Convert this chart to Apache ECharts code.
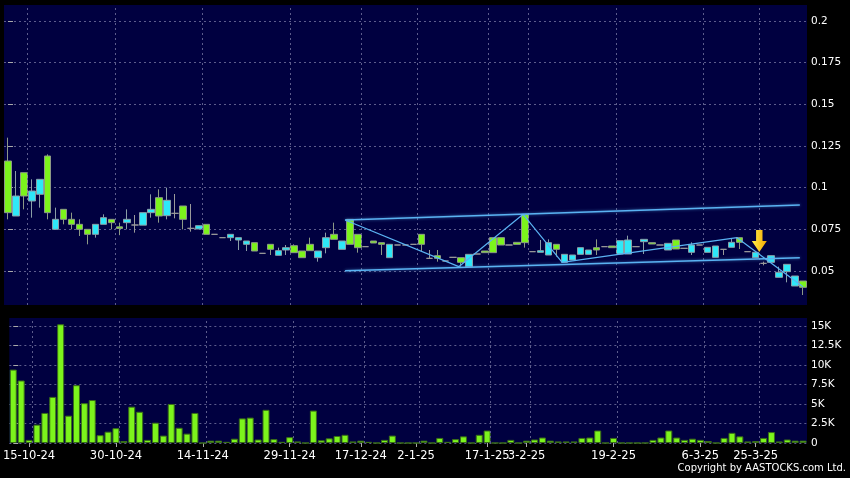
<!DOCTYPE html>
<html><head><meta charset="utf-8">
<script src="https://cdn.jsdelivr.net/npm/echarts@6/dist/echarts.min.js"></script>
<style>html,body{margin:0;padding:0;background:#000;} #c{width:850px;height:478px;}</style>
</head><body><div id="c"></div>
<script>
const dates = ['10-10-24','14-10-24','15-10-24','16-10-24','17-10-24','18-10-24','21-10-24','22-10-24','23-10-24','24-10-24',
'25-10-24','28-10-24','29-10-24','30-10-24','31-10-24','1-11-24','4-11-24','5-11-24','6-11-24','7-11-24',
'8-11-24','11-11-24','12-11-24','13-11-24','14-11-24','15-11-24','18-11-24','19-11-24','20-11-24','21-11-24',
'22-11-24','25-11-24','26-11-24','27-11-24','28-11-24','29-11-24','2-12-24','3-12-24','4-12-24','6-12-24',
'9-12-24','11-12-24','13-12-24','16-12-24','17-12-24','18-12-24','19-12-24','20-12-24','23-12-24','27-12-24',
'30-12-24','2-1-25','3-1-25','6-1-25','7-1-25','9-1-25','10-1-25','13-1-25','14-1-25','16-1-25',
'17-1-25','20-1-25','22-1-25','24-1-25','27-1-25','3-2-25','4-2-25','5-2-25','6-2-25','7-2-25',
'10-2-25','11-2-25','12-2-25','13-2-25','14-2-25','18-2-25','19-2-25','20-2-25','21-2-25','24-2-25',
'25-2-25','26-2-25','27-2-25','28-2-25','3-3-25','4-3-25','5-3-25','6-3-25','7-3-25','11-3-25',
'13-3-25','14-3-25','18-3-25','21-3-25','25-3-25','26-3-25','27-3-25','28-3-25','31-3-25','1-4-25','2-4-25'];
const labelDates = ['15-10-24','30-10-24','14-11-24','29-11-24','17-12-24','2-1-25','17-1-25','3-2-25','19-2-25','6-3-25','25-3-25'];
// [open, close, low, high]
const ohlc = [
[0.085,0.116,0.081,0.130],[0.095,0.083,0.083,0.110],[0.095,0.109,0.087,0.109],[0.098,0.092,0.082,0.105],[0.105,0.096,0.088,0.105],
[0.085,0.119,0.081,0.120],[0.081,0.075,0.075,0.088],[0.081,0.087,0.078,0.087],[0.078,0.081,0.075,0.085],[0.075,0.078,0.071,0.081],
[0.072,0.075,0.066,0.075],[0.078,0.072,0.070,0.078],[0.082,0.078,0.078,0.084],[0.079,0.081,0.075,0.081],[0.0755,0.0765,0.0715,0.079],
[0.081,0.079,0.075,0.087],[0.0776,0.0776,0.073,0.0836],[0.085,0.0775,0.0775,0.085],[0.087,0.085,0.082,0.096],[0.083,0.094,0.079,0.099],
[0.0924,0.0832,0.081,0.100],[0.0846,0.0846,0.0816,0.0962],[0.081,0.089,0.075,0.089],[0.0756,0.0756,0.0736,0.0902],[0.0772,0.0752,0.0752,0.0772],
[0.072,0.078,0.072,0.078],[0.072,0.072,0.072,0.072],[0.070,0.070,0.070,0.070],[0.072,0.070,0.068,0.072],[0.070,0.0686,0.0626,0.070],
[0.068,0.066,0.062,0.068],[0.062,0.067,0.062,0.067],[0.0606,0.0606,0.0606,0.0606],[0.063,0.066,0.0596,0.066],[0.0622,0.0594,0.0594,0.064],
[0.064,0.0626,0.0596,0.0656],[0.061,0.0652,0.061,0.066],[0.058,0.062,0.058,0.062],[0.0622,0.066,0.0622,0.070],[0.062,0.058,0.0556,0.062],
[0.070,0.064,0.0606,0.073],[0.069,0.072,0.069,0.079],[0.068,0.063,0.063,0.068],[0.066,0.081,0.066,0.081],[0.064,0.072,0.061,0.072],
[0.0646,0.0646,0.0646,0.0646],[0.0668,0.068,0.0668,0.068],[0.066,0.067,0.0596,0.067],[0.066,0.058,0.058,0.066],[0.0656,0.0656,0.0656,0.0656],
[0.0656,0.0656,0.0656,0.0656],[0.066,0.066,0.066,0.066],[0.066,0.072,0.062,0.072],[0.0576,0.0576,0.0576,0.0626],[0.0576,0.0592,0.0556,0.0626],
[0.056,0.056,0.056,0.056],[0.0582,0.0582,0.0582,0.0582],[0.0552,0.058,0.0526,0.058],[0.060,0.0526,0.0526,0.060],[0.0602,0.0602,0.0602,0.0602],
[0.061,0.062,0.061,0.062],[0.061,0.070,0.061,0.070],[0.0656,0.070,0.0656,0.070],[0.0656,0.0656,0.0656,0.0656],[0.066,0.0672,0.066,0.0672],
[0.067,0.084,0.064,0.084],[0.0616,0.0616,0.0616,0.0616],[0.0622,0.0612,0.0612,0.0686],[0.067,0.0596,0.0596,0.069],[0.063,0.066,0.0586,0.066],
[0.060,0.0552,0.0552,0.060],[0.0596,0.0566,0.0566,0.0596],[0.064,0.060,0.060,0.064],[0.0626,0.060,0.060,0.0626],[0.0626,0.064,0.0596,0.069],
[0.0646,0.0646,0.0646,0.0646],[0.064,0.065,0.064,0.065],[0.0682,0.0602,0.0602,0.0682],[0.0686,0.0602,0.0602,0.0712],[0.0646,0.0646,0.0646,0.0646],
[0.069,0.0676,0.0602,0.069],[0.0662,0.067,0.0662,0.067],[0.0656,0.0656,0.0656,0.0656],[0.0666,0.0626,0.0626,0.0666],[0.0632,0.0686,0.0632,0.0686],
[0.0636,0.0636,0.0636,0.0636],[0.0656,0.0612,0.0596,0.0672],[0.0656,0.0656,0.0656,0.0656],[0.0642,0.0612,0.0612,0.0642],[0.065,0.0582,0.0582,0.065],
[0.063,0.063,0.0596,0.063],[0.0672,0.0642,0.0642,0.0692],[0.0672,0.070,0.0632,0.070],[0.0616,0.0616,0.0616,0.0616],[0.0612,0.058,0.058,0.0612],
[0.0546,0.0546,0.0534,0.0556],[0.0592,0.0552,0.0552,0.0592],[0.0492,0.0462,0.0462,0.0526],[0.054,0.0496,0.0432,0.054],[0.047,0.041,0.041,0.047],
[0.0402,0.044,0.0356,0.044]];
const volumesK = [9.4,8.0,0.4,2.35,3.85,5.9,15.2,3.5,7.4,5.1,
5.5,1.0,1.45,1.9,0.25,4.65,4.0,0.4,2.6,0.95,
5.0,1.95,1.2,3.85,0,0.3,0.3,0.15,0.55,3.15,
3.25,0.45,4.25,0.5,0.15,0.75,0.2,0,4.15,0.35,
0.6,0.9,1.05,0.2,0.3,0.15,0,0.4,0.95,0,
0,0,0.3,0,0.65,0.15,0.5,0.85,0,1.05,
1.6,0,0,0.4,0,0.3,0.45,0.7,0.3,0.2,
0.2,0.2,0.65,0.7,1.6,0,0.65,0,0,0,
0,0.4,0.7,1.6,0.7,0.4,0.55,0.4,0.25,0,
0.65,1.3,0.85,0.2,0.25,0.65,1.4,0.2,0.45,0.3,0.3];
const priceTicks = [0.05,0.075,0.1,0.125,0.15,0.175,0.2];
const volumeTicks = [0,2.5,5,7.5,10,12.5,15];
// trend lines: [candle index, price]
const upperChannel = [[42.4,0.0806],[99.6,0.0896]];
const lowerChannel = [[42.4,0.0502],[99.6,0.0580]];
const zigzag = [[42.4,0.0806],[56.7,0.0526],[64.8,0.0840],[69.7,0.0552],[91.7,0.0700],[100,0.0406]];
const arrowPoint = [[94.5,0.0680]];

const isLabel = (v) => labelDates.indexOf(v) >= 0;
const gridColor = '#5c5c8c';
const vGridLines = labelDates.map(d => ({xAxis: dates.indexOf(d) + 0.45}));
const chart = echarts.init(document.getElementById('c'), null, {renderer:'canvas'});
const trendStyle = {color:'#5ab2f2', width:1.5, shadowBlur:3, shadowColor:'rgba(90,178,242,0.6)'};
const gridMarkLine = {silent:true, symbol:'none', label:{show:false}, animation:false,
  lineStyle:{color:gridColor, type:[2,3], width:1}, data:vGridLines};
const hiddenValueX = (g) => ({type:'value', gridIndex:g, min:-0.5, max:dates.length-0.5, show:false,
  splitLine:{show:false}, axisLine:{show:false}, axisTick:{show:false}, axisLabel:{show:false}});
chart.setOption({
  animation:false,
  backgroundColor:'#000',
  grid:[
    {left:4, right:43, top:5, height:300, show:true, backgroundColor:'#000040', borderWidth:0},
    {left:4, right:43, top:318, height:125, show:true, backgroundColor:'#000040', borderWidth:0}
  ],
  xAxis:[
    {type:'category', gridIndex:0, data:dates, boundaryGap:true,
     axisLine:{show:false}, axisTick:{show:false}, axisLabel:{show:false}, splitLine:{show:false}},
    {type:'category', gridIndex:1, data:dates, boundaryGap:true,
     axisLine:{show:false},
     axisTick:{show:true, alignWithLabel:true, length:4, interval:(i,v)=>isLabel(v), lineStyle:{color:'#aaa'}},
     axisLabel:{show:true, interval:(i,v)=>isLabel(v), color:'#fff', fontFamily:'DejaVu Sans', fontSize:11.5, margin:7},
     splitLine:{show:false}},
    hiddenValueX(0),
    hiddenValueX(1)
  ],
  yAxis:[
    {type:'value', gridIndex:0, position:'right', min:0.0296, max:0.2096, scale:true,
     axisLine:{show:false},
     axisTick:{show:true, length:5, customValues:priceTicks, lineStyle:{color:'#aaa'}},
     axisLabel:{show:true, customValues:priceTicks, color:'#fff', fontFamily:'DejaVu Sans', fontSize:10.5, margin:4},
     splitLine:{show:true, lineStyle:{color:gridColor, type:[2,3]}}},
    {type:'value', gridIndex:1, position:'right', min:0, max:16,
     axisLine:{show:false},
     axisTick:{show:true, length:5, customValues:volumeTicks, lineStyle:{color:'#aaa'}},
     axisLabel:{show:true, customValues:volumeTicks, color:'#fff', fontFamily:'DejaVu Sans', fontSize:10.5, margin:4,
       formatter:(v)=> v===0 ? '0' : v+'K'},
     splitLine:{show:true, lineStyle:{color:gridColor, type:[2,3]}}}
  ],
  series:[
    {type:'line', xAxisIndex:2, yAxisIndex:0, data:[], symbol:'none', z:1, markLine:gridMarkLine},
    {type:'line', xAxisIndex:3, yAxisIndex:1, data:[], symbol:'none', z:1, markLine:gridMarkLine},
    {type:'candlestick', xAxisIndex:0, yAxisIndex:0, data:ohlc, barWidth:7, z:3,
     itemStyle:{color:'#7cf41c', color0:'#2ee8f8', borderColor:'#8d9a86', borderColor0:'#8a9ea6', borderColorDoji:'#9a9a9a', borderWidth:1}},
    {type:'line', xAxisIndex:2, yAxisIndex:0, data:upperChannel, symbol:'none', lineStyle:trendStyle, z:5},
    {type:'line', xAxisIndex:2, yAxisIndex:0, data:lowerChannel, symbol:'none', lineStyle:trendStyle, z:5},
    {type:'line', xAxisIndex:2, yAxisIndex:0, data:zigzag, symbol:'none', lineStyle:{color:'#5ab2f2', width:1.2}, z:5},
    {type:'scatter', xAxisIndex:2, yAxisIndex:0, data:arrowPoint, z:10,
     symbol:'path://M4,0 L10,0 L10,11 L14,11 L7,22 L0,11 L4,11 Z', symbolSize:[15,22],
     itemStyle:{opacity:1, color:new echarts.graphic.LinearGradient(0,0,1,0,[{offset:0,color:'#fff04a'},{offset:1,color:'#f5a800'}])}},
    {type:'bar', xAxisIndex:1, yAxisIndex:1, data:volumesK, barWidth:7, z:3,
     itemStyle:{color:'#7cf41c', borderColor:'#3a6e18', borderWidth:1}}
  ],
  graphic:[{type:'text', right:4, top:463, style:{text:'Copyright by AASTOCKS.com Ltd.', fill:'#fff', font:'10px "DejaVu Sans"'}}]
});
</script></body></html>
